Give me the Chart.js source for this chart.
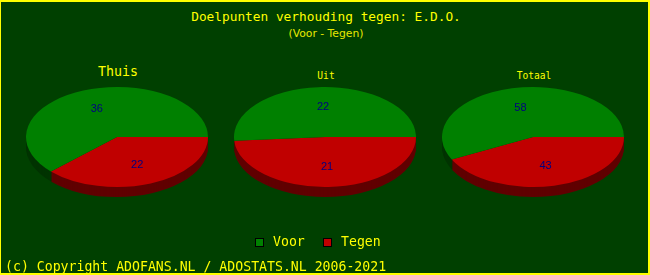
<!DOCTYPE html>
<html>
<head>
<meta charset="utf-8">
<script src="https://cdn.jsdelivr.net/npm/chart.js@4.4.1/dist/chart.umd.min.js"></script>
<style>
  html, body { margin: 0; padding: 0; background: #004000; }
  #wrap { position: relative; width: 650px; height: 275px; box-sizing: border-box; border: 1px solid #ffff00; border-width: 2px 2px 2px 1px; background: #004000; overflow: hidden; }
  .txt { position: absolute; white-space: nowrap; color: #ffff00; font-family: "DejaVu Sans Mono", monospace; line-height: 1; }
  canvas { position: absolute; }
  .sq { position: absolute; width: 7px; height: 7px; border: 1px solid #000; }
</style>
</head>
<body>
<div id="wrap">
  <div class="txt" id="title" style="left:0; width:650px; text-align:center; top:9px; font-size:12.8px;">Doelpunten verhouding tegen: E.D.O.</div>
  <div class="txt" style="left:0; width:650px; text-align:center; top:27px; font-size:10.8px; font-family:'DejaVu Sans', sans-serif; color:#e8e800;">(Voor - Tegen)</div>

  <div class="txt pt" style="left:17px; width:200px; text-align:center; top:63px; font-size:13.3px;">Thuis</div>
  <div class="txt pt" style="left:225px; width:200px; text-align:center; top:69px; font-size:9.6px;">Uit</div>
  <div class="txt pt" style="left:433px; width:200px; text-align:center; top:69px; font-size:9.6px;">Totaal</div>

  <canvas id="c0"></canvas>
  <canvas id="c1"></canvas>
  <canvas id="c2"></canvas>

  <div class="sq" style="left:254px; top:236px; background:#008000;"></div>
  <div class="txt" style="left:272px; top:233px; font-size:13.2px;">Voor</div>
  <div class="sq" style="left:322px; top:236px; background:#c00000;"></div>
  <div class="txt" style="left:340px; top:233px; font-size:13.2px;">Tegen</div>

  <div class="txt" style="left:4px; top:258px; font-size:13.2px;">(c) Copyright ADOFANS.NL / ADOSTATS.NL 2006-2021</div>
</div>
<script>
const categories = ['Thuis', 'Uit', 'Totaal'];
const seriesNames = ['Voor', 'Tegen'];
const voor = [36, 22, 58];
const tegen = [22, 21, 43];

const centersX = [117, 325, 533];
const centerY = 137;
const radius = 91;
const squash = 50 / 91;
const depth = 10;

// pseudo 3D: squash the pie and draw a darker side underneath
const pie3d = {
    id: 'pie3d',
    beforeDatasetsDraw(chart) {
        const ctx = chart.ctx;
        const arcs = chart.getDatasetMeta(0).data;
        const cx = arcs[0].x, cy = arcs[0].y;
        const side = chart.options.plugins.pie3d.sideColors;
        ctx.save();
        ctx.translate(cx, cy);
        ctx.scale(1, squash);
        ctx.translate(-cx, -cy);
        for (let d = depth; d >= 1; d--) {
            arcs.forEach((a, i) => {
                const off = d / squash;
                ctx.beginPath();
                ctx.moveTo(a.x, a.y + off);
                ctx.arc(a.x, a.y + off, a.outerRadius, a.startAngle, a.endAngle);
                ctx.closePath();
                ctx.fillStyle = side[i];
                ctx.fill();
            });
        }
    },
    afterDatasetsDraw(chart) {
        const ctx = chart.ctx;
        ctx.restore();
        const arcs = chart.getDatasetMeta(0).data;
        const values = chart.data.datasets[0].data;
        ctx.save();
        ctx.font = '11px "Liberation Sans", sans-serif';
        ctx.fillStyle = '#000080';
        ctx.textAlign = 'center';
        ctx.textBaseline = 'middle';
        arcs.forEach((a, i) => {
            const mid = (a.startAngle + a.endAngle) / 2;
            const r = a.outerRadius * 0.6;
            ctx.fillText(String(values[i]), a.x + Math.cos(mid) * r, a.y + Math.sin(mid) * r * squash);
        });
        ctx.restore();
    }
};

categories.forEach((cat, i) => {
    const cv = document.getElementById('c' + i);
    const size = radius * 2;
    cv.width = size; cv.height = size + 30;
    cv.style.width = size + 'px'; cv.style.height = (size + 30) + 'px';
    cv.style.left = (centersX[i] - radius - 1) + 'px';
    cv.style.top = (centerY - radius - 2) + 'px';
    new Chart(cv.getContext('2d'), {
        type: 'pie',
        data: {
            labels: [seriesNames[1], seriesNames[0]],
            datasets: [{
                data: [tegen[i], voor[i]],
                backgroundColor: ['#c00000', '#008000'],
                borderWidth: 0
            }]
        },
        options: {
            responsive: false,
            animation: false,
            rotation: 90,
            layout: { padding: { top: 0, left: 0, right: 0, bottom: 30 } },
            plugins: {
                legend: { display: false },
                tooltip: { enabled: false },
                pie3d: { sideColors: ['#600000', '#003400'] }
            }
        },
        plugins: [pie3d]
    });
});
</script>
</body>
</html>
